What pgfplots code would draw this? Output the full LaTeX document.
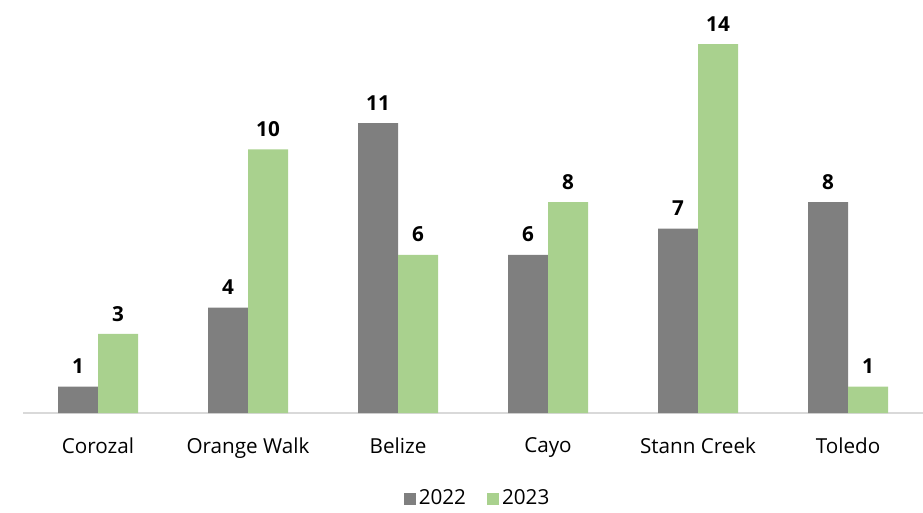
\documentclass[border=0pt]{standalone}
\usepackage{pgfplots}
\pgfplotsset{compat=1.18}
\usepackage{fontspec}
\setmainfont{Open Sans}
\definecolor{cgray}{HTML}{7F7F7F}
\definecolor{cgreen}{HTML}{A9D18E}
\definecolor{caxis}{HTML}{D9D9D9}
\begin{document}
\begin{tikzpicture}
\begin{axis}[
  at={(17.25pt,74.25pt)}, anchor=south west,
  scale only axis, width=675pt, height=309.75pt,
  ymin=0, ymax=15.67, xmin=-0.5, xmax=5.5,
  ybar=0pt, bar width=30pt,
  axis y line=none, axis x line*=bottom,
  x axis line style={draw=caxis, line width=1pt, -},
  xtick={0,1,2,3,4,5},
  xticklabels={Corozal,Orange Walk,Belize,Cayo,Stann Creek,Toledo},
  xtick style={draw=none},
  xticklabel style={font=\fontsize{15.5}{18}\selectfont, yshift=-10.5pt},
  nodes near coords,
  /pgf/number format/assume math mode=true,
  every node near coord/.append style={font=\fontsize{15.5}{17}\selectfont\bfseries, black, yshift=6pt},
  legend columns=2,
  legend style={at={(0.5056,-0.207)}, anchor=center, draw=none, font=\fontsize{15.5}{18}\selectfont,
    /tikz/every even column/.append style={column sep=14pt}},
  legend image code/.code={\fill[#1] (-1.5pt,-4.5pt) rectangle (7.5pt,4.5pt);},
]
\addplot[fill=cgray, draw=none] coordinates {(0,1) (1,4) (2,11) (3,6) (4,7) (5,8)};
\addplot[fill=cgreen, draw=none] coordinates {(0,3) (1,10) (2,6) (3,8) (4,14) (5,1)};
\legend{2022,2023}
\end{axis}
\pgfresetboundingbox
\path[use as bounding box] (0pt,0pt) rectangle (692.25pt,384pt);
\end{tikzpicture}
\end{document}
